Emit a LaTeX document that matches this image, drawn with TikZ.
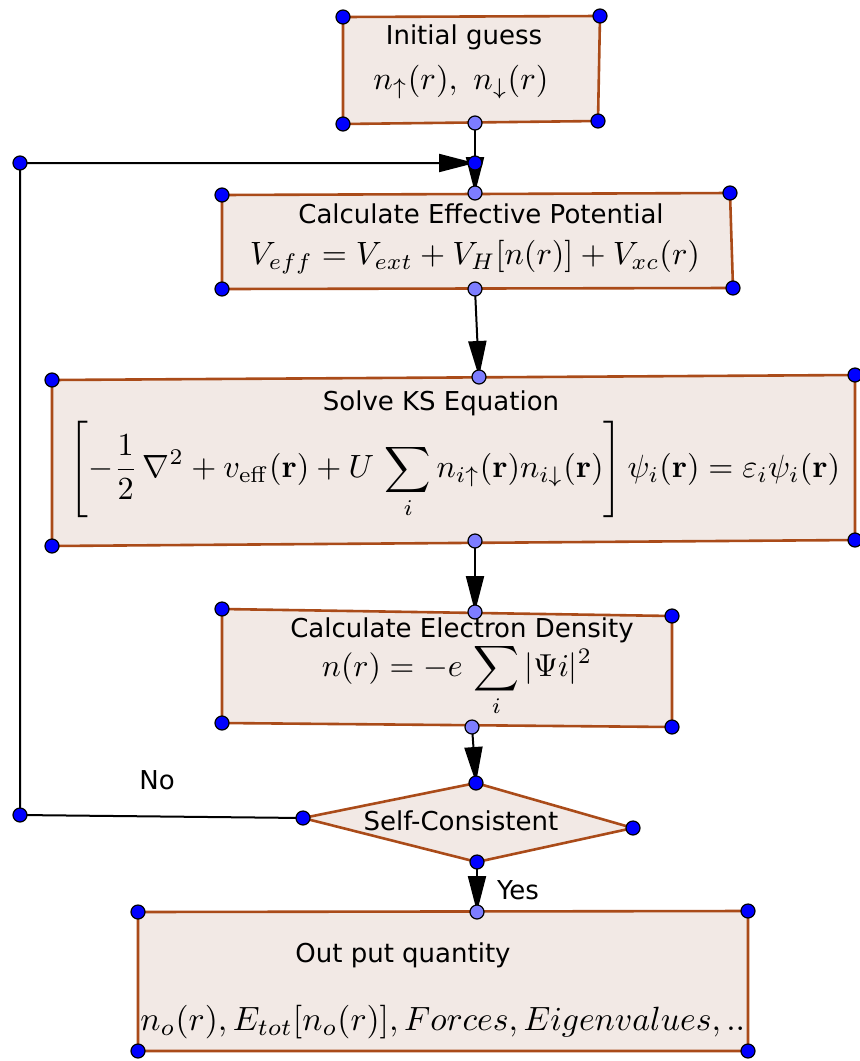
\documentclass[tikz,border=0pt]{standalone}
\usepackage[no-math]{fontspec}
\setmainfont{DejaVu Sans}
\usepackage{amsmath}
\usepackage{graphicx}
\usetikzlibrary{arrows.meta}
\definecolor{boxfill}{RGB}{242,233,229}
\definecolor{boxline}{RGB}{170,75,25}
\definecolor{midpt}{RGB}{125,125,255}
\begin{document}
\begin{tikzpicture}[x=0.5pt,y=-0.5pt,
  quad/.style={fill=boxfill,draw=boxline,line width=1.3pt,line join=round},
  vtx/.style={circle,fill=blue,draw=black,line width=0.6pt,inner sep=0pt,minimum size=7pt},
  mvtx/.style={vtx,fill=midpt},
  arr/.style={-{Triangle[length=18pt,width=9pt]},line width=1pt},
  lbl/.style={font=\fontsize{13}{15}\selectfont}]
  \useasboundingbox (0,0) rectangle (859,1061);
  % corners of the boxes
  \coordinate (b1a) at (343,17);  \coordinate (b1b) at (600,16);
  \coordinate (b1c) at (598,121); \coordinate (b1d) at (343,124);
  \coordinate (b2a) at (222,195); \coordinate (b2b) at (730,193);
  \coordinate (b2c) at (733,288); \coordinate (b2d) at (222,289);
  \coordinate (b3a) at (52,380);  \coordinate (b3b) at (855,375);
  \coordinate (b3c) at (855,540); \coordinate (b3d) at (52,546);
  \coordinate (b4a) at (222,609); \coordinate (b4b) at (672,616);
  \coordinate (b4c) at (672,727); \coordinate (b4d) at (222,723);
  \coordinate (b5a) at (138,912); \coordinate (b5b) at (748,911);
  \coordinate (b5c) at (748,1051);\coordinate (b5d) at (138,1051);
  \coordinate (d1) at (476,783);  \coordinate (d2) at (633,828);
  \coordinate (d3) at (477,862);  \coordinate (d4) at (303,818);
  % mid points and the loop back
  \coordinate (m1) at (475,123);  \coordinate (m2) at (475,193);
  \coordinate (m3) at (475,289);  \coordinate (m4) at (479,377);
  \coordinate (m5) at (475,541);  \coordinate (m6) at (475,612);
  \coordinate (m7) at (472,727);  \coordinate (m8) at (477,912);
  \coordinate (j1) at (475,163);
  \coordinate (l1) at (20,163);   \coordinate (l2) at (20,815);
  % boxes
  \draw[quad] (b1a) -- (b1b) -- (b1c) -- (b1d) -- cycle;
  \draw[quad] (b2a) -- (b2b) -- (b2c) -- (b2d) -- cycle;
  \draw[quad] (b3a) -- (b3b) -- (b3c) -- (b3d) -- cycle;
  \draw[quad] (b4a) -- (b4b) -- (b4c) -- (b4d) -- cycle;
  \draw[quad] (d1) -- (d2) -- (d3) -- (d4) -- cycle;
  \draw[quad] (b5a) -- (b5b) -- (b5c) -- (b5d) -- cycle;
  % connectors
  \draw[line width=1pt] (m1) -- (j1);
  \draw[arr] (j1) -- (m2);
  \draw[arr] (m3) -- (m4);
  \draw[arr] (m5) -- (m6);
  \draw[arr] (m7) -- (d1);
  \draw[arr] (d3) -- (m8);
  \draw[arr] (d4) -- (l2) -- (l1) -- (j1);
  % texts
  \node[lbl] (t1) at (464,37) {Initial guess};
  \node (e1) at (461,82) {\resizebox{87.5pt}{!}{$n_\uparrow(r),\ n_\downarrow(r)$}};
  \node[lbl] (t2) at (481,214) {Calculate Effective Potential};
  \node (e2) at (475,257) {\resizebox{225pt}{!}{$V_{eff}=V_{ext}+V_H[n(r)]+V_{xc}(r)$}};
  \node[lbl] (t3) at (441,403) {Solve KS Equation};
  \node (e3) at (455,470) {\resizebox{385pt}{!}{$\displaystyle\left[-\frac{1}{2}\,\nabla^2+v_{\mathrm{eff}}(\mathbf{r})+U\,\sum_i n_{i\uparrow}(\mathbf{r})n_{i\downarrow}(\mathbf{r})\right]\psi_i(\mathbf{r})=\varepsilon_i\psi_i(\mathbf{r})$}};
  \node[lbl] (t4) at (462,630) {Calculate Electron Density};
  \node (e4) at (457,680) {\resizebox{135pt}{!}{$\displaystyle n(r)=-e\,\sum_i|\Psi i|^2$}};
  \node[lbl] (t5) at (461,821) {Self-Consistent};
  \node[lbl] (no) at (157,780) {No};
  \node[lbl] (yes) at (518,890) {Yes};
  \node[lbl] (t6) at (403,955) {Out put quantity};
  \node (e6) at (443,1022) {\resizebox{302.5pt}{!}{$n_o(r),E_{tot}[n_o(r)],Forces,Eigenvalues,..$}};
  % points
  \foreach \p in {b1a,b1b,b1c,b1d,b2a,b2b,b2c,b2d,b3a,b3b,b3c,b3d,b4a,b4b,b4c,b4d,b5a,b5b,b5c,b5d,d1,d2,d3,d4,j1,l1,l2}
    \node[vtx] (v\p) at (\p) {};
  \foreach \p in {m1,m2,m3,m4,m5,m6,m7,m8}
    \node[mvtx] (v\p) at (\p) {};
\end{tikzpicture}
\end{document}
